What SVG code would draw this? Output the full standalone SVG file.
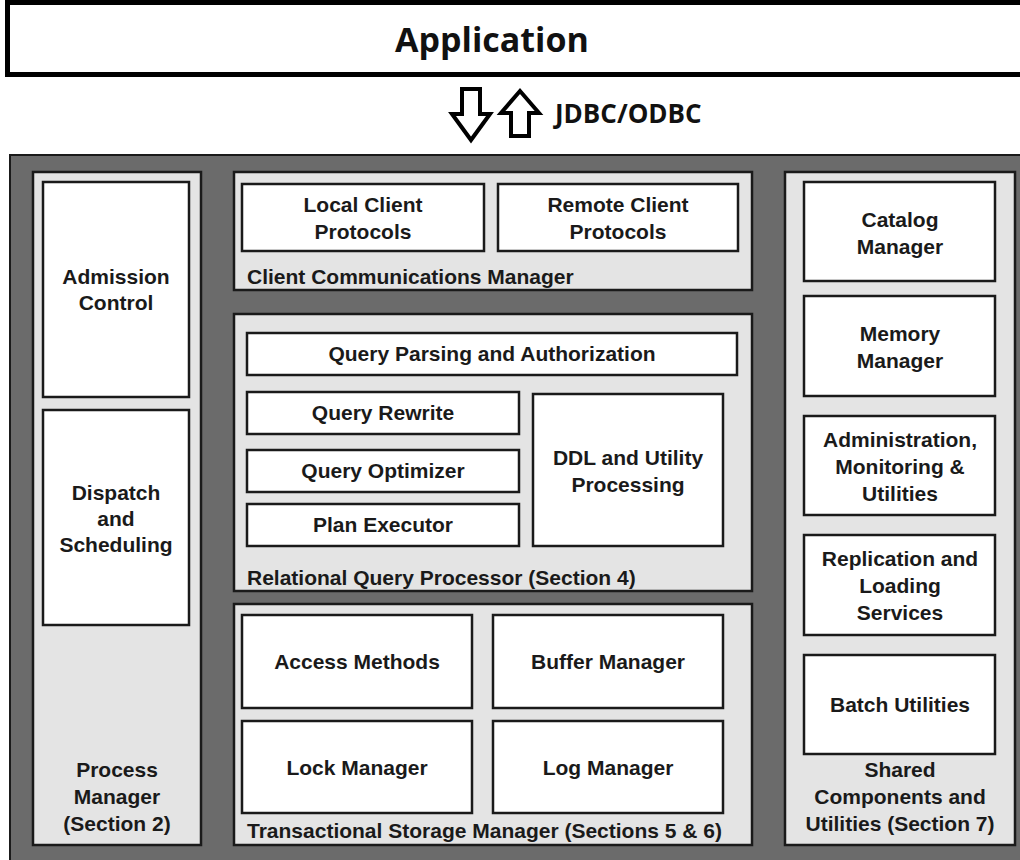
<svg xmlns="http://www.w3.org/2000/svg" width="1020" height="860" viewBox="0 0 1020 860">
<style>
.panel{fill:#e4e4e4;stroke:#1a1a1a;stroke-width:2.5}
.box{fill:#ffffff;stroke:#1a1a1a;stroke-width:2.5}
.t{font-family:"Liberation Sans",Arial,sans-serif;font-weight:bold;font-size:21px;fill:#1a1a1a}
.c{text-anchor:middle}
.arrow{fill:#ffffff;stroke:#000000;stroke-width:4;stroke-linejoin:miter}
.hdr{font-family:"Open Sans","DejaVu Sans",sans-serif;font-weight:bold;fill:#111111}
</style>
<rect width="1020" height="860" fill="#ffffff"/>
<g id="application">
<rect x="7.5" y="2.5" width="1030" height="72" fill="#ffffff" stroke="#000000" stroke-width="5"/>
<text class="hdr" x="492" y="52" font-size="34" text-anchor="middle">Application</text>
</g>
<g id="connectors">
<polygon class="arrow" points="462,89 480,89 480,114 490,114 471,140 452,114 462,114"/>
<polygon class="arrow" points="520,91 539,113 529,113 529,136 511,136 511,113 501,113"/>
<text class="hdr" x="555" y="123" font-size="26">JDBC/ODBC</text>
</g>
<g id="dbms">
<rect x="10" y="155" width="1020" height="715" fill="#6b6b6b" stroke="#1a1a1a" stroke-width="2"/>
</g>
<g id="process-manager">
<rect class="panel" x="33" y="172" width="168" height="673"/>
<text class="t c" x="117" y="777">Process</text>
<text class="t c" x="117" y="804">Manager</text>
<text class="t c" x="117" y="831">(Section 2)</text>
</g>
<g id="admission-control">
<rect class="box" x="43" y="182" width="146" height="215"/>
<text class="t c" x="116" y="284">Admission</text>
<text class="t c" x="116" y="310">Control</text>
</g>
<g id="dispatch-scheduling">
<rect class="box" x="43" y="410" width="146" height="215"/>
<text class="t c" x="116" y="500">Dispatch</text>
<text class="t c" x="116" y="526">and</text>
<text class="t c" x="116" y="552">Scheduling</text>
</g>
<g id="client-communications-manager">
<rect class="panel" x="234" y="172" width="518" height="118"/>
<text class="t" x="247" y="284">Client Communications Manager</text>
</g>
<g id="local-client-protocols">
<rect class="box" x="242" y="184" width="242" height="67"/>
<text class="t c" x="363" y="212">Local Client</text>
<text class="t c" x="363" y="239">Protocols</text>
</g>
<g id="remote-client-protocols">
<rect class="box" x="498" y="184" width="240" height="67"/>
<text class="t c" x="618" y="212">Remote Client</text>
<text class="t c" x="618" y="239">Protocols</text>
</g>
<g id="relational-query-processor">
<rect class="panel" x="234" y="314" width="518" height="277"/>
<text class="t" x="247" y="585">Relational Query Processor (Section 4)</text>
</g>
<g id="query-parsing">
<rect class="box" x="247" y="333" width="490" height="42"/>
<text class="t c" x="492" y="361">Query Parsing and Authorization</text>
</g>
<g id="query-rewrite">
<rect class="box" x="247" y="392" width="272" height="42"/>
<text class="t c" x="383" y="420">Query Rewrite</text>
</g>
<g id="query-optimizer">
<rect class="box" x="247" y="450" width="272" height="42"/>
<text class="t c" x="383" y="478">Query Optimizer</text>
</g>
<g id="plan-executor">
<rect class="box" x="247" y="504" width="272" height="42"/>
<text class="t c" x="383" y="532">Plan Executor</text>
</g>
<g id="ddl-utility">
<rect class="box" x="533" y="394" width="190" height="152"/>
<text class="t c" x="628" y="465">DDL and Utility</text>
<text class="t c" x="628" y="492">Processing</text>
</g>
<g id="transactional-storage-manager">
<rect class="panel" x="234" y="604" width="518" height="241"/>
<text class="t" x="247" y="838">Transactional Storage Manager (Sections 5 &amp; 6)</text>
</g>
<g id="access-methods">
<rect class="box" x="242" y="615" width="230" height="93"/>
<text class="t c" x="357" y="669">Access Methods</text>
</g>
<g id="buffer-manager">
<rect class="box" x="493" y="615" width="230" height="93"/>
<text class="t c" x="608" y="669">Buffer Manager</text>
</g>
<g id="lock-manager">
<rect class="box" x="242" y="721" width="230" height="92"/>
<text class="t c" x="357" y="775">Lock Manager</text>
</g>
<g id="log-manager">
<rect class="box" x="493" y="721" width="230" height="92"/>
<text class="t c" x="608" y="775">Log Manager</text>
</g>
<g id="shared-components">
<rect class="panel" x="785" y="172" width="230" height="673"/>
<text class="t c" x="900" y="777">Shared</text>
<text class="t c" x="900" y="804">Components and</text>
<text class="t c" x="900" y="831">Utilities (Section 7)</text>
</g>
<g id="catalog-manager">
<rect class="box" x="804" y="182" width="191" height="99"/>
<text class="t c" x="900" y="227">Catalog</text>
<text class="t c" x="900" y="254">Manager</text>
</g>
<g id="memory-manager">
<rect class="box" x="804" y="296" width="191" height="100"/>
<text class="t c" x="900" y="341">Memory</text>
<text class="t c" x="900" y="368">Manager</text>
</g>
<g id="administration">
<rect class="box" x="804" y="416" width="191" height="99"/>
<text class="t c" x="900" y="447">Administration,</text>
<text class="t c" x="900" y="474">Monitoring &amp;</text>
<text class="t c" x="900" y="501">Utilities</text>
</g>
<g id="replication">
<rect class="box" x="804" y="535" width="191" height="100"/>
<text class="t c" x="900" y="566">Replication and</text>
<text class="t c" x="900" y="593">Loading</text>
<text class="t c" x="900" y="620">Services</text>
</g>
<g id="batch-utilities">
<rect class="box" x="804" y="655" width="191" height="99"/>
<text class="t c" x="900" y="712">Batch Utilities</text>
</g>
</svg>
